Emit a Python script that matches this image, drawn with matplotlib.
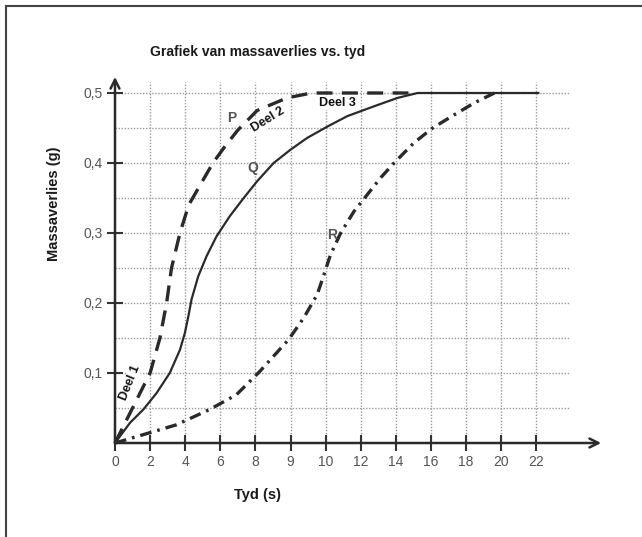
import matplotlib
matplotlib.use("Agg")
import matplotlib.pyplot as plt
from matplotlib.lines import Line2D

plt.rcParams['font.family'] = ['Liberation Sans', 'DejaVu Sans']

# ---- data (x in grid positions; labels below) ----
x_tick_pos = list(range(13))
x_tick_labels = ['0', '2', '4', '6', '8', '9', '10', '12', '14', '16', '18', '20', '22']
y_ticks = [0.1, 0.2, 0.3, 0.4, 0.5]
y_tick_labels = ['0,1', '0,2', '0,3', '0,4', '0,5']
y_grid = [0.05, 0.1, 0.15, 0.2, 0.25, 0.3, 0.35, 0.4, 0.45, 0.5]

p_x = [0, 0.24, 0.57, 1.0, 1.28, 1.47, 1.61, 1.85, 2.1, 2.42, 2.79, 3.15, 3.5, 4.05, 4.9, 5.6, 8.6]
p_y = [0, 0.024, 0.057, 0.10, 0.15, 0.20, 0.25, 0.30, 0.34, 0.368, 0.40, 0.425, 0.447, 0.475, 0.493, 0.5, 0.5]

q_x = [0, 0.43, 0.81, 1.18, 1.56, 1.85, 1.99, 2.09, 2.18, 2.37, 2.61, 2.89, 3.27, 3.62,
       4.05, 4.52, 5.0, 5.48, 6.05, 6.62, 7.38, 8.05, 8.62, 12.06]
q_y = [0, 0.029, 0.048, 0.071, 0.10, 0.133, 0.157, 0.181, 0.205, 0.238, 0.267, 0.295, 0.324, 0.347,
       0.374, 0.40, 0.419, 0.436, 0.452, 0.467, 0.481, 0.493, 0.5, 0.5]

r_x = [0, 0.81, 1.75, 2.7, 3.46, 4.12, 4.95, 5.38, 5.76, 5.95, 6.14, 6.43, 6.81, 7.19,
       7.57, 7.95, 8.52, 9.05, 9.67, 10.24, 10.81]
r_y = [0, 0.012, 0.026, 0.048, 0.069, 0.102, 0.148, 0.179, 0.212, 0.24, 0.269, 0.30, 0.331, 0.355,
       0.379, 0.40, 0.429, 0.45, 0.469, 0.486, 0.5]

W, H = 642, 537
X0, UX = 115, 35.1
fig = plt.figure(figsize=(W / 100, H / 100), dpi=100)
ax = fig.add_axes([100 / W, (H - 460) / H, 510 / W, 390 / H])
ax.set_xlim((100 - X0) / UX, (610 - X0) / UX)
ax.set_ylim((443 - 460) / 700, (443 - 70) / 700)

for s in ['top', 'right']:
    ax.spines[s].set_visible(False)
ax.spines['left'].set_position(('data', 0))
ax.spines['bottom'].set_position(('data', 0))
ax.spines['left'].set_visible(False)
ax.spines['bottom'].set_visible(False)

# grid
gcol = '#9a9a9a'
ax.vlines(x_tick_pos[1:], 0, 0.516, colors=gcol, linestyles=(0, (1, 1.2)), lw=1.0, zorder=1)
ax.hlines(y_grid, 0, 12.95, colors=gcol, linestyles=(0, (1, 1.2)), lw=1.0, zorder=1)

# axes with arrows
acol = '#2a2a2a'
ax.annotate('', xy=(13.85, 0), xytext=(0, 0),
            arrowprops=dict(arrowstyle='->', lw=1.8, color=acol, shrinkA=0, shrinkB=0, mutation_scale=16),
            zorder=3)
ax.annotate('', xy=(0, 0.523), xytext=(0, 0),
            arrowprops=dict(arrowstyle='->', lw=1.8, color=acol, shrinkA=0, shrinkB=0, mutation_scale=16),
            zorder=3)

ax.set_xticks(x_tick_pos)
ax.set_xticklabels(x_tick_labels)
ax.set_yticks(y_ticks)
ax.set_yticklabels(y_tick_labels)
ax.tick_params(direction='inout', length=11, width=1.5, color='#333333',
               labelcolor='#555555', labelsize=10, pad=3.5)

# curves
ccol = '#2a2a2a'
ax.plot(p_x, p_y, color=ccol, lw=2.4, linestyle=(0, (4.8, 2.8)), zorder=4)
ax.plot(q_x, q_y, color=ccol, lw=1.6, linestyle='-', zorder=4)
ax.plot(r_x, r_y, color=ccol, lw=2.4, linestyle=(0, (3.5, 1.8, 0.8, 1.8)), zorder=4)

# labels on curves
lab = dict(color='#555555', fontsize=10, fontweight='bold', ha='center', va='center', zorder=6)
ax.text(3.33, 0.464, 'P', **lab)
ax.text(3.93, 0.393, 'Q', **lab)
ax.text(6.18, 0.297, 'R', **lab)

deel = dict(color='#111111', fontsize=9, fontweight='bold', ha='center', va='center', zorder=6)
ax.text(4.36, 0.462, 'Deel 2', rotation=32,
        bbox=dict(facecolor='white', edgecolor='none', pad=0.6), **deel)
ax.text(6.35, 0.485, 'Deel 3',
        bbox=dict(facecolor='white', edgecolor='none', pad=0.3), **deel)
ax.text(0.42, 0.086, 'Deel 1', rotation=68,
        bbox=dict(facecolor='white', edgecolor='none', pad=0.3), **deel)

# titles
fig.text(258 / W, 1 - 52 / H, 'Grafiek van massaverlies vs. tyd', ha='center', va='center',
         fontsize=10, fontweight='bold', color='#1a1a1a')
fig.text(54 / W, 1 - 204 / H, 'Massaverlies (g)', ha='center', va='center', rotation=90,
         fontsize=10.5, fontweight='bold', color='#1a1a1a')
fig.text(258 / W, 1 - 495 / H, 'Tyd (s)', ha='center', va='center',
         fontsize=10.5, fontweight='bold', color='#1a1a1a')

# frame
fcol = '#444444'
fig.add_artist(Line2D([6 / W, 1], [1 - 6 / H, 1 - 6 / H], transform=fig.transFigure, color=fcol, lw=1.5))
fig.add_artist(Line2D([6 / W, 6 / W], [1 - 6 / H, 0], transform=fig.transFigure, color=fcol, lw=1.5))

fig.savefig('out.png', dpi=100)
